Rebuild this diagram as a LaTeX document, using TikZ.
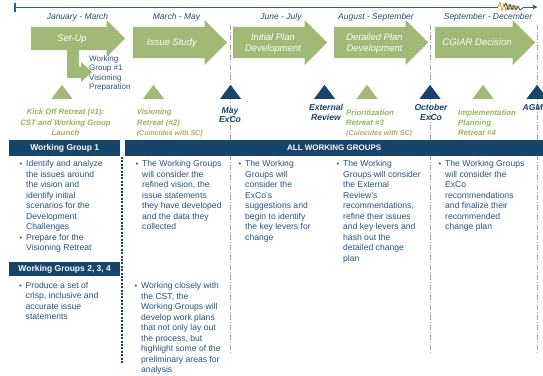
\documentclass[tikz,border=0pt]{standalone}
\usepackage{fontspec}
\setmainfont{Liberation Sans}
\usetikzlibrary{positioning, arrows.meta, shapes.arrows, shapes.geometric}

\definecolor{phasegreen}{RGB}{160,185,118}
\definecolor{lblgreen}{RGB}{150,180,90}
\definecolor{navy}{RGB}{22,68,107}
\definecolor{txtblue}{RGB}{38,84,128}
\definecolor{monthblue}{RGB}{35,75,120}
\definecolor{axisblue}{RGB}{50,95,135}
\definecolor{gridgray}{RGB}{160,160,160}
\definecolor{zigorange}{RGB}{240,160,40}

% small bullet hanging left of the first line
\newcommand{\itm}{\llap{{\fontsize{7.5}{6}\selectfont\textbullet}\hspace{4pt}}}

\begin{document}
\begin{tikzpicture}[x=1pt, y=-1pt,
        phase/.style={single arrow, fill=phasegreen, single arrow head extend=7pt, single arrow tip angle=90, inner xsep=0pt, inner ysep=15.5pt, minimum height=94pt, anchor=tail},
        phaselbl/.style={text=white, font=\itshape\fontsize{9.5}{11.5}\selectfont, align=center, inner sep=0pt},
        month/.style={text=monthblue, font=\itshape\fontsize{8.5}{10}\selectfont, anchor=base, inner sep=0pt},
        ms/.style={isosceles triangle, isosceles triangle apex angle=75, isosceles triangle stretches, shape border rotate=90, minimum width=21pt, minimum height=14pt, inner sep=0pt, anchor=apex},
        msgreen/.style={ms, fill=phasegreen},
        msblue/.style={ms, fill=navy},
        glbl/.style={text=lblgreen, font=\bfseries\itshape\fontsize{7.8}{10.3}\selectfont, inner sep=0pt},
        blbl/.style={text=navy, font=\bfseries\itshape\fontsize{8.6}{9.8}\selectfont, align=center, inner sep=0pt, anchor=north},
        head/.style={fill=navy, text=white, font=\bfseries\fontsize{8.5}{10}\selectfont, inner sep=0pt, anchor=north west, minimum height=16pt},
        body/.style={text=txtblue, font=\fontsize{8.6}{10.5}\selectfont, align=left, inner sep=0pt, anchor=north west},
        sep/.style={gridgray, line width=0.8pt, dash pattern=on 5pt off 2pt on 1pt off 2pt},
        dots/.style={navy, line width=2pt, dash pattern=on 2pt off 1.4pt},
        axis/.style={axisblue, line width=1pt}
    ]
    \fill[white] (0,0) rectangle (543,375);
    \useasboundingbox (0,0) rectangle (543,375);

    % time axis with break
    \coordinate (t0) at (15,7);
    \coordinate (z0) at (498,7);
    \coordinate (z1) at (523,7);
    \coordinate (t1) at (538,7);
    \draw[axis, line width=1.5pt] ([yshift=4.5pt]t0) -- ([yshift=-4.5pt]t0);
    \draw[axis] (t0) -- (z0);
    \draw[zigorange, line width=0.9pt, line join=round] (z0) -- ++(2,-5) -- ++(2,9) -- ++(2,-8) -- ++(2,8) -- ++(2,-7) -- ++(2,6) -- ++(2,-5) -- ++(2,5) -- ++(2,-4) -- ++(2,3);
    \draw[axis, line width=0.8pt, line join=round] (504,7) -- ++(2,-4) -- ++(2,7) -- ++(2,-6) -- ++(2,6) -- ++(2,-5) -- ++(2,5) -- ++(2,-4) -- ++(2,4) -- ++(3,-2) -- (z1);
    \draw[axis, -{Latex[length=5pt, width=5pt]}] (z1) -- (t1);

    % months
    \node[month] (m1) at (77.5,19) {January - March};
    \node[month] (m2) at (176.5,19) {March - May};
    \node[month] (m3) at (281,19) {June - July};
    \node[month] (m4) at (376,19) {August - September};
    \node[month] (m5) at (488,19) {September - December};

    % milestone separators
    \coordinate (s1a) at (230,25);  \coordinate (s1b) at (230,353);
    \coordinate (s2a) at (430,25);  \coordinate (s2b) at (430,353);
    \coordinate (s3a) at (537,25);  \coordinate (s3b) at (537,353);
    \draw[sep] (s1a) -- (s1b);
    \draw[sep] (s2a) -- (s2b);
    \draw[sep] (s3a) -- (s3b);
    \coordinate (d0) at (122,157);  \coordinate (d1) at (122,363);
    \draw[dots] (d0) -- (d1);

    % phases
    \node[phase, inner ysep=11.5pt] (setup) at (31,38.5) {};
    \node[phase] (issue) at (133,42.5) {};
    \node[phase] (initial) at (233,42.5) {};
    \node[phase] (detail) at (334,42.5) {};
    \node[phase, minimum height=100pt] (cgiar) at (435,42.5) {};
    \fill[phasegreen] (67,48) -- (79,48) -- (79,67) -- (81,67) -- (81,62) -- (92,72) -- (81,82) -- (81,78) -- (67,78) -- cycle;

    \node[phaselbl, anchor=base] (setuplbl) at (72,41.5) {Set-Up};
    \node[phaselbl, anchor=base] (issuelbl) at (172,45.8) {Issue Study};
    \node[phaselbl, anchor=north] (initiallbl) at (273,33.3) {Initial Plan\\Development};
    \node[phaselbl, anchor=north] (detaillbl) at (374.5,33.3) {Detailed Plan\\Development};
    \node[phaselbl, anchor=base] (cgiarlbl) at (477,45.8) {CGIAR Decision};
    \node[text=txtblue, font=\fontsize{8}{9.2}\selectfont, align=left, inner sep=0pt, anchor=north west] (prep) at (89,55.7) {Working\\Group \#1\\Visioning\\Preparation};

    % milestones
    \node[msgreen] (kick) at (62,84.5) {};
    \node[msgreen] (vis) at (153.5,84.5) {};
    \node[msblue] (may) at (230.5,84.5) {};
    \node[msblue] (ext) at (324.5,84.5) {};
    \node[msgreen] (prio) at (367,84.5) {};
    \node[msblue] (oct) at (430,84.5) {};
    \node[msgreen] (impl) at (483,84.5) {};
    \node[msblue] (agm) at (537,84.5) {};

    \node[glbl, align=center, anchor=north] (kicklbl) at (65.5,108.9) {Kick Off Retreat (\#1):\\CST and Working Group\\Launch};
    \node[glbl, align=left, anchor=north west] (vislbl) at (136.7,108.9) {Visioning\\Retreat (\#2)\\{\fontsize{7}{10.3}\selectfont(Coincides with SC)}};
    \node[blbl] (maylbl) at (230,106.9) {May\\ExCo};
    \node[blbl] (extlbl) at (326,103.9) {External\\Review};
    \node[glbl, align=left, anchor=north west] (priolbl) at (346,109.5) {Prioritization\\Retreat \#3\\{\fontsize{7}{10.3}\selectfont(Coincides with SC)}};
    \node[blbl] (octlbl) at (431,103.9) {October\\ExCo};
    \node[glbl, align=left, anchor=north west] (impllbl) at (458,109.5) {Implementation\\Planning\\Retreat \#4};
    \node[blbl, anchor=north east] (agmlbl) at (543,103.9) {AGM};

    % working group table
    \node[head, minimum width=111pt] (wg1) at (9,140) {Working Group 1};
    \node[head, minimum width=418pt, font=\bfseries\fontsize{8}{10}\selectfont] (allwg) at (125,140) {ALL WORKING GROUPS};
    \node[head, minimum width=111pt, minimum height=14.5pt] (wg234) at (9,261.7) {Working Groups 2, 3, 4};

    \node[body] (c1) at (26,160.5) {\itm Identify and analyze\\the issues around\\the vision and\\identify initial\\scenarios for the\\Development\\Challenges\\\itm Prepare for the\\Visioning Retreat};
    \node[body] (c2) at (142,160.5) {\itm The Working Groups\\will consider the\\refined vision, the\\issue statements\\they have developed\\and the data they\\collected};
    \node[body] (c3) at (245,160.5) {\itm The Working\\Groups will\\consider the\\ExCo's\\suggestions and\\begin to identify\\the key levers for\\change};
    \node[body] (c4) at (343,160.5) {\itm The Working\\Groups will consider\\the External\\Review's\\recommendations,\\refine their issues\\and key levers and\\hash out the\\detailed change\\plan};
    \node[body] (c5) at (445,160.5) {\itm The Working Groups\\will consider the\\ExCo\\recommendations\\and finalize their\\recommended\\change plan};
    \node[body] (c6) at (25.5,282) {\itm Produce a set of\\crisp, inclusive and\\accurate issue\\statements};
    \node[body] (c7) at (141,282.5) {\itm Working closely with\\the CST, the\\Working Groups will\\develop work plans\\that not only lay out\\the process, but\\highlight some of the\\preliminary areas for\\analysis};
\end{tikzpicture}
\end{document}
